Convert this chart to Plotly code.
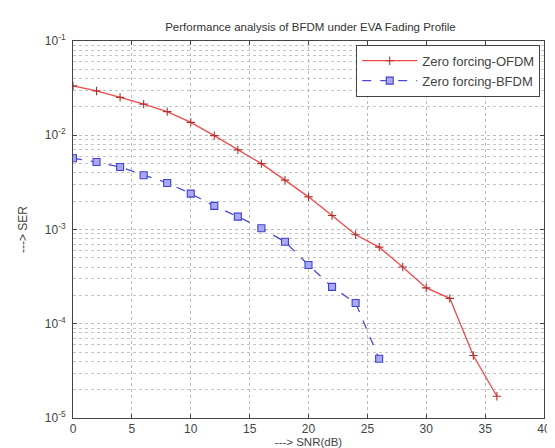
import plotly.graph_objects as go

snr_ofdm = [0, 2, 4, 6, 8, 10, 12, 14, 16, 18, 20, 22, 24, 26, 28, 30, 32, 34, 36]
ser_ofdm = [0.0334, 0.0295, 0.0252, 0.0214, 0.0178, 0.0137, 0.0099, 0.0070, 0.0050,
            0.00334, 0.00222, 0.00141, 0.00088, 0.00065, 0.00040, 0.00024, 0.000186,
            0.000046, 0.000017]

snr_bfdm = [0, 2, 4, 6, 8, 10, 12, 14, 16, 18, 20, 22, 24, 26]
ser_bfdm = [0.0057, 0.0052, 0.0046, 0.00376, 0.00312, 0.0024, 0.00178, 0.00137,
            0.00103, 0.00074, 0.00042, 0.000246, 0.000166, 0.0000425]

x_ticks = [0, 5, 10, 15, 20, 25, 30, 35, 40]
y_ticks = [1e-5, 1e-4, 1e-3, 1e-2, 1e-1]
y_ticktext = ["10<sup>-5</sup>", "10<sup>-4</sup>", "10<sup>-3</sup>", "10<sup>-2</sup>", "10<sup>-1</sup>"]

FONT = "Liberation Sans, Arial"

fig = go.Figure()
fig.add_trace(go.Scatter(
    x=snr_ofdm, y=ser_ofdm, mode="lines+markers", name="Zero forcing-OFDM",
    line=dict(color="#f04848", width=1.3),
    marker=dict(symbol="cross-thin", size=6, line=dict(color="#b03030", width=1.1)),
))
fig.add_trace(go.Scatter(
    x=snr_bfdm, y=ser_bfdm, mode="lines+markers", name="Zero forcing-BFDM",
    line=dict(color="#4a4ad8", width=1.3, dash="dash"),
    marker=dict(symbol="square", size=7, color="#a8a8f4", line=dict(color="#4040d0", width=1.1)),
))

axis_common = dict(
    showline=True, linecolor="#444", linewidth=1, mirror="ticks",
    ticks="inside", ticklen=4, tickcolor="#444",
    showgrid=True, gridcolor="#bbbbbb", griddash="dot", gridwidth=1,
    zeroline=False, tickfont=dict(family=FONT, size=12, color="#444"),
)

fig.update_xaxes(
    range=[0, 40], tickvals=x_ticks, **axis_common,
    title=dict(text="---> SNR(dB)", font=dict(family=FONT, size=11.5, color="#444"), standoff=0),
)
fig.update_yaxes(
    type="log", range=[-5, -1], tickvals=y_ticks, ticktext=y_ticktext, **axis_common,
    ticklabelstandoff=4,
    minor=dict(dtick="D1", showgrid=True, gridcolor="#c4c4c4", griddash="dot", ticks="", gridwidth=1),
    title=dict(text="---> SER", font=dict(family=FONT, size=12, color="#444"), standoff=14),
)

fig.update_layout(
    width=555, height=448,
    margin=dict(l=65, r=12, t=33, b=37),
    paper_bgcolor="white", plot_bgcolor="white",
    title=dict(text="Performance analysis of BFDM under EVA Fading Profile",
               x=0.545, xanchor="center", y=0.958, yanchor="middle",
               font=dict(family=FONT, size=11.5, color="#333")),
    legend=dict(x=0.992, y=0.99, xanchor="right", yanchor="top",
                bgcolor="white", bordercolor="#444", borderwidth=1,
                font=dict(family=FONT, size=13, color="#444"),
                tracegroupgap=0, itemwidth=55),
    showlegend=True,
)

fig.write_html("out.html")
